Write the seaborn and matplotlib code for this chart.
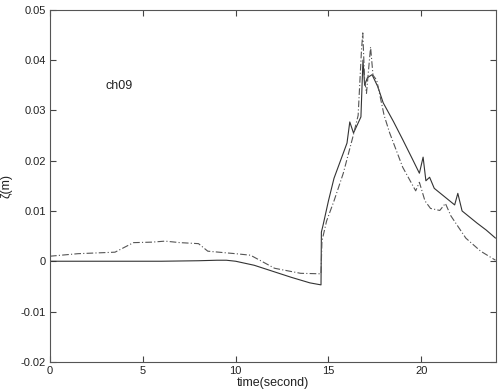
import numpy as np
import pandas as pd
import matplotlib
matplotlib.use("Agg")
import matplotlib.pyplot as plt
import seaborn as sns

# solid curve (measured)
t_solid = [0, 2, 4, 6, 8, 9, 9.5, 10, 11, 12, 13, 14, 14.6, 14.62, 14.7, 15.0, 15.3, 15.6,
           16.0, 16.15, 16.35, 16.6, 16.75, 16.86, 16.95, 17.1, 17.35, 17.66, 17.95,
           18.5, 19.0, 19.5, 19.9, 20.1, 20.25, 20.45, 20.7, 21.2, 21.8, 21.97, 22.2,
           22.6, 23.0, 23.5, 24.0]
z_solid = [0, 0, 0, 0, 0.0001, 0.0002, 0.0002, 0, -0.0008, -0.0020, -0.0032, -0.0043, -0.0047,
           0.0058, 0.0070, 0.0120, 0.0165, 0.0195, 0.0235, 0.0277, 0.0255, 0.0275, 0.0287,
           0.0400, 0.0350, 0.0365, 0.0371, 0.0347, 0.0315, 0.0278, 0.0242, 0.0205,
           0.0175, 0.0207, 0.0160, 0.0167, 0.0145, 0.0130, 0.0112, 0.0135, 0.0100,
           0.0088, 0.0076, 0.0062, 0.0046]

# dash-dot curve (computed)
t_dash = [0, 1.5, 3.5, 4.5, 5.5, 6.2, 7.0, 8.0, 8.5, 10.0, 10.8, 12.1, 13.5, 14.6, 14.65,
          14.9, 15.3, 15.8, 16.3, 16.6, 16.78, 16.85, 16.95, 17.05, 17.27, 17.4, 17.6,
          18.0, 18.3, 19.0, 19.7, 19.9, 20.2, 20.5, 21.0, 21.3, 21.6, 22.4, 23.2, 24.0]
z_dash = [0.0010, 0.0015, 0.0018, 0.0037, 0.0038, 0.0040, 0.0037, 0.0035, 0.0020, 0.0015,
          0.0012, -0.0014, -0.0024, -0.0025, 0.0040, 0.0080, 0.0120, 0.0175, 0.0245,
          0.0290, 0.0420, 0.0454, 0.0360, 0.0334, 0.0426, 0.0370, 0.0360, 0.0290,
          0.0255, 0.0187, 0.0140, 0.0157, 0.0120, 0.0105, 0.0101, 0.0115, 0.0090,
          0.0046, 0.0020, 0.0002]

df_solid = pd.DataFrame({"t": t_solid, "z": z_solid})
df_dash = pd.DataFrame({"t": t_dash, "z": z_dash})

sns.set_style("ticks")
plt.rcParams["font.family"] = ["Liberation Sans", "DejaVu Sans"]

fig = plt.figure(figsize=(5, 3.92), dpi=100)
ax = fig.add_axes([0.1, 0.077, 0.891, 0.898])

sns.lineplot(data=df_solid, x="t", y="z", ax=ax, color="#333333", linewidth=0.8)
sns.lineplot(data=df_dash, x="t", y="z", ax=ax, color="#555555", linewidth=0.8,
             linestyle=(0, (6, 2, 1, 2)))

ax.set_xlim(0, 24)
ax.set_ylim(-0.02, 0.05)
ax.set_xticks([0, 5, 10, 15, 20])
ax.set_yticks([-0.02, -0.01, 0, 0.01, 0.02, 0.03, 0.04, 0.05])
ax.set_yticklabels(["-0.02", "-0.01", "0", "0.01", "0.02", "0.03", "0.04", "0.05"])
ax.tick_params(axis="both", which="major", direction="in", bottom=True, left=True,
               top=True, right=True, length=4, width=0.8, color="#444444",
               labelsize=8, labelcolor="#222222", pad=3)
for sp in ax.spines.values():
    sp.set_visible(True)
    sp.set_color("#555555")
    sp.set_linewidth(0.8)

ax.set_xlabel("time(second)", fontsize=9, labelpad=1, color="#222222")
ax.set_ylabel("ζ(m)", fontsize=9, labelpad=6, color="#222222")
ax.text(3.0, 0.0349, "ch09", fontsize=9, va="center", ha="left", color="#222222")

fig.savefig("out.png", dpi=100)
